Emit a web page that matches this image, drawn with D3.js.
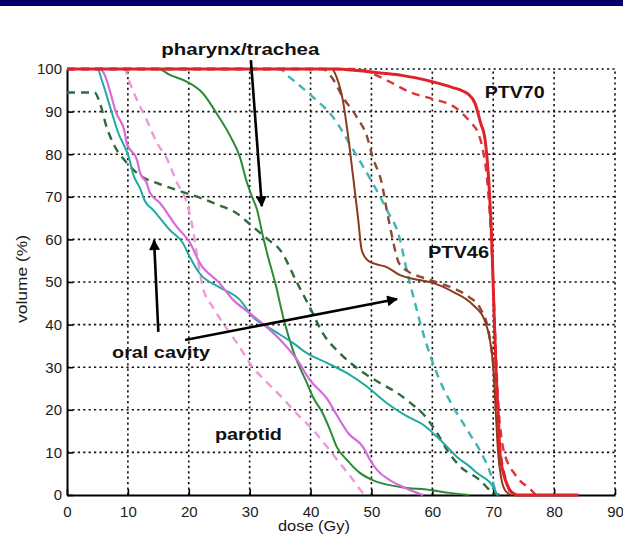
<!DOCTYPE html>
<html><head><meta charset="utf-8">
<script src="https://cdn.jsdelivr.net/npm/d3@7"></script>
<style>
html,body{margin:0;padding:0;background:#fff;}
svg{display:block;}
</style></head>
<body>
<svg id="chart" width="623" height="542"></svg>
<script>
// ---- data (dose in Gy, volume in %) ----
const doseTicks = [0,10,20,30,40,50,60,70,80,90];
const volumeTicks = [0,10,20,30,40,50,60,70,80,90,100];

const ptv70Solid = [[0,100],[44,100],[48,99.6],[52,99],[55,98.5],[60,97],[63,95.8],[66,94],[67,92],[68,87],[68.6,84],[69.3,73],[69.8,58],[70.2,40],[70.5,28],[70.8,19.5],[71.1,10],[71.6,5.5],[72,3.5],[72.7,1.2],[73.5,0.2],[74,0],[84,0]];
const ptv70Dashed = [[0,100],[47,100],[50,99],[53,97],[56.6,94.4],[60,93],[63.7,91],[66.2,87.6],[67.5,85],[68.3,81],[69,74],[69.6,62],[70,50],[70.4,35],[70.8,22],[71.3,14],[72,9],[72.4,7.5],[73.5,5],[74.5,3.2],[76,1.5],[77,0]];
const ptv46Solid = [[0,100],[43.5,100],[44.3,98],[45.3,92.7],[46.1,85],[47,74.6],[47.8,65],[48.4,57.5],[49.3,55.2],[50.5,54.3],[52.5,53.5],[54.7,51.6],[57,50.7],[60.1,49.8],[63.4,47.7],[66.7,44.6],[68.6,41],[69.5,36],[70,30],[70.4,20],[70.8,10],[71.3,4],[72,1],[73,0]];
const ptv46Dashed = [[0,100],[42,100],[43.5,98],[45.3,93.4],[47.6,88.7],[49.3,84],[50.2,79.3],[51.7,73.2],[52.5,67],[53.4,60.6],[54.5,54.5],[56,52.5],[58.5,51],[61,49.8],[63.5,48.5],[66,46.5],[68,43.5],[69.3,38],[70.2,28],[70.7,18],[71.3,9],[72,4],[73,0]];
const oralDashed = [[0,100],[35,100],[36.1,98.6],[38.3,96],[40.4,93.4],[43.7,88.7],[47,81],[50.2,73.2],[52.5,67],[54.7,59.9],[55.6,54],[56.8,47],[58.8,36.5],[60.9,28],[63.7,20],[65,17],[66.5,13.5],[67.8,10.5],[69.8,4],[70.5,0.5],[71,0]];
const oralSolid = [[0,100],[5,100],[5.8,97],[7.1,91],[8.7,84],[9.2,82.6],[10.3,78.6],[10.8,75.6],[12,72],[12.8,69],[14.1,67],[16.9,62.2],[19,59.2],[20.3,55.5],[21.8,52],[25,48.8],[28.4,45.8],[30.5,41.8],[33.8,38.7],[37.1,35.7],[39.4,33.3],[42.7,31],[46,28.6],[49.3,25.4],[52.5,21.6],[55.8,18.5],[58.5,16.5],[60.8,13.6],[62.9,10.6],[64,9],[66.2,6.6],[67.3,5.2],[70,1.9],[70.7,0]];
const pharynxSolid = [[0,100],[15,100],[16.9,98.6],[19.7,97],[22.3,94.3],[24.6,89.5],[26.9,84],[28.4,79.3],[29.5,73.6],[30.4,70],[31.2,67],[32.2,60.6],[33,56],[34.2,49.8],[35.5,41.8],[37.1,34],[39.4,26.3],[40.4,23],[42,19.2],[43.2,15.3],[44.3,11.3],[46,8.2],[48.1,5.2],[50.2,3.5],[54.7,1.9],[59.6,1.2],[62.9,0.5],[66,0]];
const pharynxDashed = [[0,94.5],[4.5,94.5],[5.4,92],[6.5,86.4],[7.9,81.7],[9.8,78],[12,75],[14.8,73.2],[18,71.6],[21.8,69.8],[25,68],[27.8,66.2],[30.5,63],[33,60],[35,57.5],[37.8,49.8],[39.9,44],[42,38],[44.8,33.3],[48.1,29.3],[51.4,26.3],[54.2,24],[56.5,21.5],[58.5,19],[60.8,14.5],[62.4,10.6],[64.5,6.8],[67.8,3.5],[70,0.5],[71,0]];
const parotidSolid = [[0,100],[5.3,100],[5.9,99.4],[7.6,92],[7.9,90.4],[9.5,85],[9.8,82.6],[11.5,78.6],[12,75.6],[13.1,73.2],[13.6,71],[15.3,68.5],[18,63],[20.2,59.2],[21.8,54.5],[25,49.8],[27.3,45.8],[30,42.7],[32.8,39.4],[35.5,35.7],[37.8,31.7],[39.9,27],[42.7,22.6],[44.3,18.8],[46.2,14.5],[48.6,11.3],[49.8,8.2],[50.9,5.9],[53,3.5],[55.2,1.9],[57.5,0.5],[58.5,0]];
const parotidDashed = [[0,100],[9.5,100],[10,98],[11.5,92.7],[13.1,88],[14.8,82.6],[16.4,79],[18,73.5],[19.7,68.5],[20.7,62.2],[21.5,55],[22.3,48.8],[24,44],[25.6,40.4],[27.9,35.7],[30.5,30],[32.8,26.5],[35.5,22.6],[37.8,19],[40.4,15.3],[42.7,11.3],[44.8,7.5],[47,3.5],[48.6,0.5],[49,0]];

// annotation labels and their anchor (dose, volume)
const labelTexts = ["pharynx/trachea","PTV70","PTV46","oral cavity","parotid"];
const labelPos = [[15.5,103.3],[68.6,93.2],[59.3,55.6],[7.4,32.2],[24.3,12.8]];
// arrows: [[fromDose, fromVol], [toDose, toVol]]
const arrowList = [
  [[30.2,102.1],[32.0,67.8]],
  [[15.0,38.3],[14.3,59.8]],
  [[19.4,36.4],[54.2,46.0]]
];

// ---- drawing ----
const svg = d3.select("#chart");
const W = 623, H = 542;
const x = d3.scaleLinear().domain([0,90]).range([67,615]);
const y = d3.scaleLinear().domain([0,100]).range([495,69]);

svg.append("rect").attr("x",0).attr("y",0).attr("width",W).attr("height",H).attr("fill","#fff");
svg.append("rect").attr("x",0).attr("y",0).attr("width",W).attr("height",6).attr("fill","#000066");

// grid
const grid = svg.append("g").attr("stroke","#111").attr("stroke-width",1.6).attr("stroke-dasharray","2.2,3.2");
grid.selectAll("line.v").data(doseTicks.filter(d=>d>0)).join("line")
  .attr("x1",d=>x(d)).attr("x2",d=>x(d)).attr("y1",y(0)).attr("y2",y(100));
grid.selectAll("line.h").data(volumeTicks.filter(d=>d>0)).join("line").attr("class","h")
  .attr("x1",x(0)).attr("x2",x(90)).attr("y1",d=>y(d)).attr("y2",d=>y(d));

// axes
const fontFam = "'Liberation Sans', Arial, Helvetica, sans-serif";
const xAxis = d3.axisBottom(x).tickValues(doseTicks).tickSizeInner(-6).tickSizeOuter(0).tickPadding(11).tickFormat(d3.format("d"));
const yAxis = d3.axisLeft(y).tickValues(volumeTicks).tickSizeInner(-6).tickSizeOuter(0).tickPadding(5).tickFormat(d3.format("d"));
const gx = svg.append("g").attr("transform",`translate(0,${y(0)})`).call(xAxis);
const gy = svg.append("g").attr("transform",`translate(${x(0)},0)`).call(yAxis);
[gx,gy].forEach(g=>{
  g.select(".domain").attr("stroke","#000").attr("stroke-width",2);
  g.selectAll(".tick line").attr("stroke","#000").attr("stroke-width",1.6);
  g.selectAll(".tick text").attr("font-family",fontFam).attr("font-size",15).attr("fill","#1a1a1a");
});

svg.append("text").attr("x",314).attr("y",531).attr("text-anchor","middle")
  .attr("font-family",fontFam).attr("font-size",14).attr("fill","#1a1a1a")
  .attr("textLength",72).attr("lengthAdjust","spacingAndGlyphs").text("dose (Gy)");
svg.append("text").attr("transform","translate(27,279) rotate(-90)").attr("text-anchor","middle")
  .attr("font-family",fontFam).attr("font-size",14).attr("fill","#1a1a1a")
  .attr("textLength",88).attr("lengthAdjust","spacingAndGlyphs").text("volume (%)");

// curves
const line = d3.line().x(d=>x(d[0])).y(d=>y(d[1])).curve(d3.curveMonotoneX);
const series = [
  {data: parotidDashed, color:"#ee9ad8", w:2.4, dash:"8,6"},
  {data: oralDashed,    color:"#3fb4b2", w:2.4, dash:"8,6"},
  {data: pharynxDashed, color:"#2f6b3a", w:2.4, dash:"8,6"},
  {data: ptv46Dashed,   color:"#8a4a34", w:2.4, dash:"8,6"},
  {data: ptv70Dashed,   color:"#d9363a", w:2.4, dash:"8,6"},
  {data: pharynxSolid,  color:"#2b8a36", w:2,   dash:null},
  {data: oralSolid,     color:"#1fa9a1", w:2,   dash:null},
  {data: parotidSolid,  color:"#d66bdc", w:2.2, dash:null},
  {data: ptv46Solid,    color:"#8b3a1c", w:2,   dash:null},
  {data: ptv70Solid,    color:"#e0222a", w:3,   dash:null}
];
svg.append("g").selectAll("path").data(series).join("path")
  .attr("d",d=>line(d.data)).attr("fill","none")
  .attr("stroke",d=>d.color).attr("stroke-width",d=>d.w)
  .attr("stroke-dasharray",d=>d.dash).attr("stroke-linejoin","round");

// arrows
svg.append("defs").append("marker").attr("id","ah").attr("viewBox","0 0 10 10")
  .attr("refX",9).attr("refY",5).attr("markerWidth",5).attr("markerHeight",4.2)
  .attr("markerUnits","strokeWidth").attr("orient","auto")
  .append("path").attr("d","M0,0 L10,5 L0,10 Z").attr("fill","#000");
svg.append("g").selectAll("line").data(arrowList).join("line")
  .attr("x1",d=>x(d[0][0])).attr("y1",d=>y(d[0][1]))
  .attr("x2",d=>x(d[1][0])).attr("y2",d=>y(d[1][1]))
  .attr("stroke","#000").attr("stroke-width",2.6).attr("marker-end","url(#ah)");

// labels
const labelWidths = [158,60,61,98,67];
svg.append("g").selectAll("text").data(labelTexts).join("text")
  .attr("x",(d,i)=>x(labelPos[i][0])).attr("y",(d,i)=>y(labelPos[i][1]))
  .attr("font-family",fontFam).attr("font-weight","bold").attr("font-size",17)
  .attr("fill","#111").attr("textLength",(d,i)=>labelWidths[i]).attr("lengthAdjust","spacingAndGlyphs")
  .text(d=>d);
</script>
</body></html>
